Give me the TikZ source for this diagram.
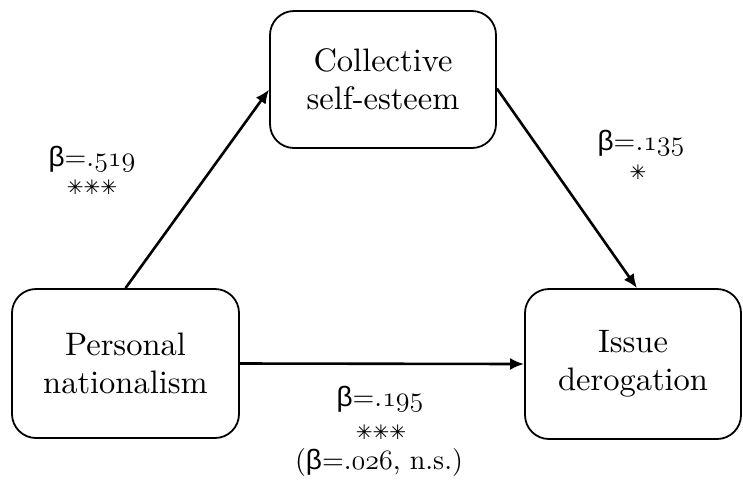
\RequirePackage{fix-cm}
\documentclass[tikz,border=0pt]{standalone}
\usepackage{fontspec}
\setmainfont{lmroman10-regular.otf}[BoldFont=lmroman10-bold.otf,ItalicFont=lmroman10-italic.otf]
\newfontfamily\betafont{Liberation Sans}
\newfontfamily\starfont{DejaVu Sans}
\usetikzlibrary{calc,arrows.meta}
\newcommand{\bt}{{\betafont β}}
\newcommand{\onum}[1]{$\mathnormal{#1}$}
\newcommand{\stars}[1]{{\starfont\bfseries\fontsize{20}{24}\selectfont #1}}
\begin{document}
\begin{tikzpicture}[x=1pt,y=-1pt,
  box/.style={draw,line width=1.8pt,rounded corners=24pt,align=center,
    inner sep=0pt,font=\fontsize{32.5}{38}\selectfont},
  arr/.style={line width=2.6pt,-{Latex[length=14pt,width=12pt]}},
  lab/.style={anchor=base,inner sep=0pt,font=\fontsize{28}{30}\selectfont},
  sig/.style={anchor=center,inner sep=0pt}]
\useasboundingbox (0,0) rectangle (743,491);

% variables
\node[box,minimum width=226pt,minimum height=137pt] (T) at (383,79.5) {Collective\\self-esteem};
\node[box,minimum width=227pt,minimum height=149pt] (L) at (125.5,363.5) {Personal\\nationalism};
\node[box,minimum width=216pt,minimum height=150pt] (R) at (633,364) {Issue\\derogation};

% paths
\draw[arr] (L.north) -- ($(T.west)+(0,10)$);
\draw[arr] ($(T.east)+(0,9)$) -- ($(R.north)+(4,0)$);
\draw[arr] (L.east) -- (R.west);

% coefficients
\node[lab] (a) at (92,166) {\bt=.\onum{519}};
\node[sig] (as) at (92,187) {\stars{✳✳✳}};
\node[lab] (b) at (641,150) {\bt=.\onum{135}};
\node[sig] (bs) at (638,172) {\stars{✳}};
\node[lab] (c) at (380,406) {\bt=.\onum{195}};
\node[sig] (cs) at (381,432) {\stars{✳✳✳}};
\node[lab] (cd) at (379,469) {(\bt=.\onum{026}, n.s.)};
\end{tikzpicture}
\end{document}
